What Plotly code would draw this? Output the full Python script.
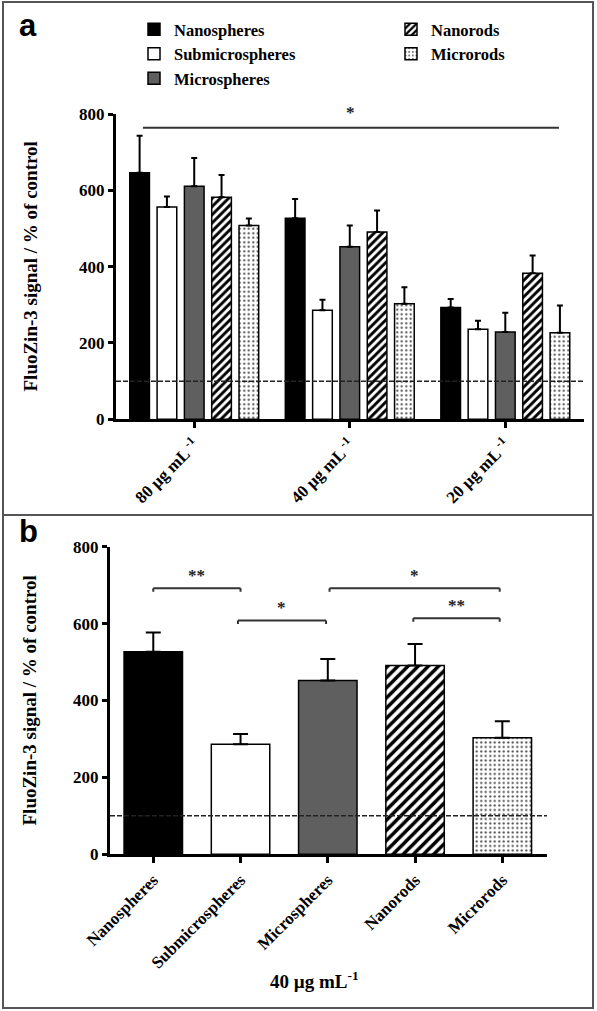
import plotly.graph_objects as go

# ---------------- data ----------------
materials = ["Nanospheres", "Submicrospheres", "Microspheres", "Nanorods", "Microrods"]
concentrations = ["80 µg mL<sup> -1</sup>", "40 µg mL<sup> -1</sup>", "20 µg mL<sup> -1</sup>"]
y_ticks = [0, 200, 400, 600, 800]

nanospheres_mean = [646, 527, 293]
nanospheres_err = [97, 50, 22]
submicrospheres_mean = [556, 286, 236]
submicrospheres_err = [28, 27, 22]
microspheres_mean = [611, 452, 229]
microspheres_err = [74, 56, 50]
nanorods_mean = [582, 491, 383]
nanorods_err = [58, 56, 46]
microrods_mean = [508, 303, 227]
microrods_err = [18, 43, 71]

means = [nanospheres_mean, submicrospheres_mean, microspheres_mean, nanorods_mean, microrods_mean]
errs = [nanospheres_err, submicrospheres_err, microspheres_err, nanorods_err, microrods_err]

control_level = 100
panel_b_conc = 1  # 40 µg/mL
panel_b_title = "40 µg mL<sup>-1</sup>"
y_title = "FluoZin-3 signal / % of control"

# significance annotations
sig_a = dict(x0=-0.33, x1=2.345, y=764, label="*")
sig_b = [  # (x0, x1, y, label)
    (0.0, 1.0, 692, "**"),
    (0.97, 1.98, 608, "*"),
    (2.02, 3.97, 692, "*"),
    (2.98, 3.97, 614, "**"),
]

# ---------------- styles ----------------
W, H = 597, 1011
fills = ["black", "white", "#5f5f5f", "white", "white"]
pat_shape = ["", "", "", "/", "."]
pat_fg = ["black", "black", "black", "black", "#4a4a4a"]
pat_size_a = [None, None, None, 5.8, 4.5]
pat_size_b = [None, None, None, 7.2, 4.5]
pat_solid_a = [None, None, None, 0.5, 0.18]
pat_solid_b = [None, None, None, 0.48, 0.18]
serif = "Liberation Serif"

def px_x(p):
    return p / W

def px_y(p):
    return (H - p) / H

def make_pattern(i, sizes, solids):
    pat = dict(shape=pat_shape[i], fgcolor=pat_fg[i], bgcolor=fills[i],
               fillmode="replace", fgopacity=1)
    if sizes[i] is not None:
        pat.update(size=sizes[i], solidity=solids[i])
    return pat

fig = go.Figure()

legend_of = ["legend", "legend", "legend", "legend2", "legend2"]
for i, m in enumerate(materials):
    fig.add_trace(go.Bar(
        x=list(range(len(concentrations))), y=means[i], name=m,
        xaxis="x", yaxis="y", legend=legend_of[i],
        marker=dict(color=fills[i], line=dict(color="black", width=1.5),
                    pattern=make_pattern(i, pat_size_a, pat_solid_a)),
        error_y=dict(type="data", symmetric=False, array=errs[i],
                     arrayminus=[0] * len(errs[i]), color="black", thickness=2, width=3),
    ))

# panel b: one bar per material at 40 µg/mL (shared offset group -> centred bars)
for i, m in enumerate(materials):
    fig.add_trace(go.Bar(
        x=[i], y=[means[i][panel_b_conc]], name=m, xaxis="x2", yaxis="y2",
        showlegend=False, offsetgroup="b", width=0.67,
        marker=dict(color=fills[i], line=dict(color="black", width=1.5),
                    pattern=make_pattern(i, pat_size_b, pat_solid_b)),
        error_y=dict(type="data", symmetric=False, array=[errs[i][panel_b_conc]],
                     arrayminus=[0], color="black", thickness=2, width=7.5),
    ))

tickfont = dict(family=serif, size=17, color="black", weight="bold")
axis_common = dict(showline=True, linecolor="black", linewidth=3, ticks="outside",
                   tickcolor="black", tickwidth=2.5, showgrid=False, zeroline=False,
                   tickfont=tickfont, automargin=False)
legend_font = dict(family=serif, size=16.5, color="black", weight="bold")

fig.update_layout(
    width=W, height=H, margin=dict(l=0, r=0, t=0, b=0, pad=0, autoexpand=False),
    paper_bgcolor="white", plot_bgcolor="white",
    barmode="group", bargap=0.122, bargroupgap=0.28,
    xaxis=dict(domain=[px_x(116), px_x(584)], anchor="y", range=[-0.503, 2.506],
               tickmode="array", tickvals=list(range(len(concentrations))),
               ticktext=concentrations, tickangle=-45, ticklen=6, **axis_common),
    yaxis=dict(domain=[px_y(419.3), px_y(114)], anchor="x", range=[0, 800],
               tickmode="array", tickvals=y_ticks, ticklen=5, **axis_common),
    xaxis2=dict(domain=[px_x(110), px_x(547)], anchor="y2", range=[-0.496, 4.512],
                tickmode="array", tickvals=list(range(len(materials))),
                ticktext=materials, tickangle=-45, ticklen=6, **axis_common),
    yaxis2=dict(domain=[px_y(854.3), px_y(546.7)], anchor="x2", range=[0, 800],
                tickmode="array", tickvals=y_ticks, ticklen=5, **axis_common),
    legend=dict(x=px_x(134), y=px_y(12), xanchor="left", yanchor="top",
                bgcolor="rgba(0,0,0,0)", tracegroupgap=0, font=legend_font),
    legend2=dict(x=px_x(391), y=px_y(12), xanchor="left", yanchor="top",
                 bgcolor="rgba(0,0,0,0)", tracegroupgap=0, font=legend_font),
)

shapes = []
# outer frame and divider
shapes.append(dict(type="rect", xref="paper", yref="paper", x0=px_x(3), x1=px_x(593),
                   y0=px_y(1008), y1=px_y(2), line=dict(color="#555", width=2)))
shapes.append(dict(type="line", xref="paper", yref="paper", x0=px_x(3), x1=px_x(593),
                   y0=px_y(515), y1=px_y(515), line=dict(color="#555", width=2)))
# control dashed lines
for xr, yr in [("x domain", "y"), ("x2 domain", "y2")]:
    shapes.append(dict(type="line", xref=xr, yref=yr, x0=0, x1=1, y0=control_level,
                       y1=control_level, layer="above",
                       line=dict(color="#222", width=1.5, dash="5px,2px")))
# panel a significance line
shapes.append(dict(type="line", xref="x", yref="y", x0=sig_a["x0"], x1=sig_a["x1"],
                   y0=sig_a["y"], y1=sig_a["y"], line=dict(color="#333", width=2)))
star_font = dict(family=serif, size=17, color="#222", weight="bold")
annotations = [dict(x=(sig_a["x0"] + sig_a["x1"]) / 2, y=sig_a["y"] + 10, xref="x", yref="y",
                    text=sig_a["label"], showarrow=False, xanchor="center", yanchor="bottom",
                    font=star_font)]
# panel b brackets
for x0, x1, yv, lab in sig_b:
    for seg in [(x0, yv, x1, yv), (x0, yv, x0, yv - 9), (x1, yv, x1, yv - 9)]:
        shapes.append(dict(type="line", xref="x2", yref="y2", x0=seg[0], y0=seg[1],
                           x1=seg[2], y1=seg[3], line=dict(color="#333", width=2)))
    annotations.append(dict(x=(x0 + x1) / 2, y=yv + 4, xref="x2", yref="y2", text=lab,
                            showarrow=False, xanchor="center", yanchor="bottom",
                            font=star_font))

# panel letters
letter_font = dict(family="Liberation Sans", size=31, color="black", weight="bold")
annotations.append(dict(x=px_x(17), y=px_y(45), xref="paper", yref="paper", text="a",
                        showarrow=False, xanchor="left", yanchor="bottom", font=letter_font))
annotations.append(dict(x=px_x(17), y=px_y(551), xref="paper", yref="paper", text="b",
                        showarrow=False, xanchor="left", yanchor="bottom", font=letter_font))
# y titles
title_font = dict(family=serif, size=19, color="black", weight="bold")
annotations.append(dict(x=px_x(30), y=px_y(266.5), xref="paper", yref="paper", text=y_title,
                        textangle=-90, showarrow=False, xanchor="center", yanchor="middle",
                        font=title_font))
annotations.append(dict(x=px_x(29), y=px_y(700.5), xref="paper", yref="paper", text=y_title,
                        textangle=-90, showarrow=False, xanchor="center", yanchor="middle",
                        font=title_font))
# panel b x title
annotations.append(dict(x=px_x(314), y=px_y(980), xref="paper", yref="paper", text=panel_b_title,
                        showarrow=False, xanchor="center", yanchor="middle",
                        font=dict(family=serif, size=19, color="black", weight="bold")))

fig.update_layout(shapes=shapes, annotations=annotations)
fig.write_html("out.html", config={"displayModeBar": False},
               post_script="document.body.style.margin='0px';document.body.style.overflow='hidden';")
